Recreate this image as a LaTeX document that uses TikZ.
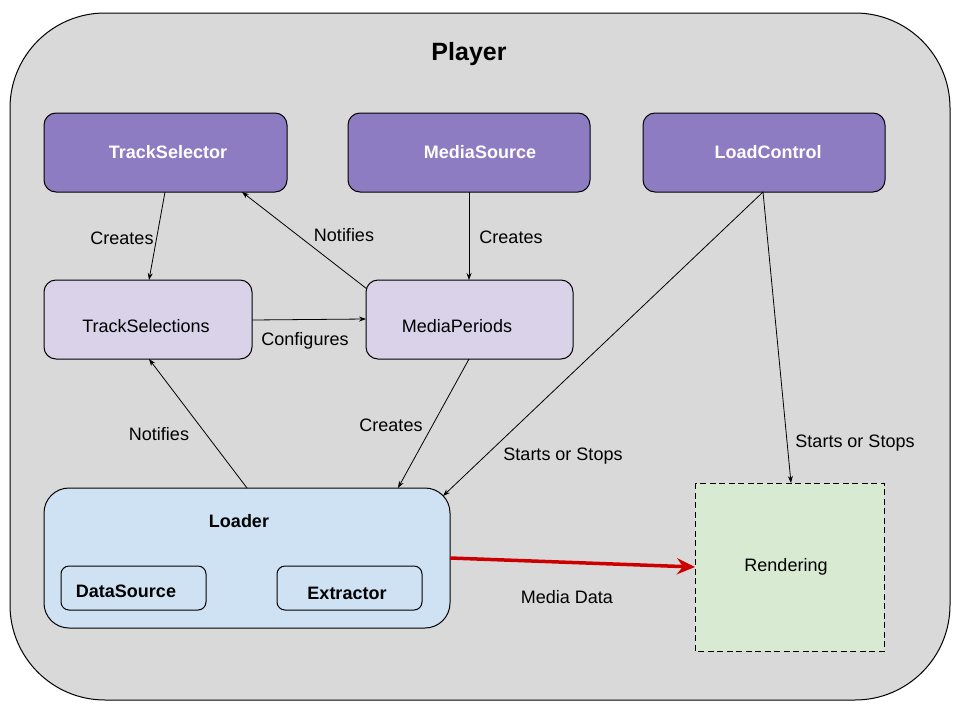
\documentclass[tikz,border=0pt]{standalone}
\usepackage{fontspec}
\setmainfont{Liberation Sans}
\usetikzlibrary{arrows.meta}
\definecolor{bggray}{HTML}{D9D9D9}
\definecolor{purpdark}{HTML}{8E7CC3}
\definecolor{purplight}{HTML}{D9D2E9}
\definecolor{bluelight}{HTML}{CFE2F3}
\definecolor{greenlight}{HTML}{D9EAD3}
\definecolor{redarrow}{HTML}{CC0000}
\tikzset{
  txt/.style={font=\fontsize{18}{21}\selectfont, inner sep=0pt},
  btxt/.style={font=\fontsize{18}{21}\selectfont\bfseries, inner sep=0pt},
  topbox/.style={draw=black, line width=1pt, fill=purpdark, rounded corners=12pt},
  midbox/.style={draw=black, line width=1pt, fill=purplight, rounded corners=12pt},
  conn/.style={draw=black, line width=0.8pt, -{Stealth[length=7pt,width=5pt]}},
}
\begin{document}
\begin{tikzpicture}[x=1pt,y=-1pt]
\useasboundingbox (0,0) rectangle (960,720);
\fill[white] (0,0) rectangle (960,720);
% outer player
\draw[line width=1pt, fill=bggray, rounded corners=95pt] (10,13) rectangle (950,700);
\node[font=\fontsize{25}{28}\selectfont\bfseries, inner sep=0pt] (title) at (469,54) {Player};

% top boxes
\draw[topbox] (44,113) rectangle (287,192);
\node[btxt, text=white] (ts) at (168,152) {TrackSelector};
\draw[topbox] (348,113) rectangle (590,192);
\node[btxt, text=white] (ms) at (480,152) {MediaSource};
\draw[topbox] (643,113) rectangle (885,192);
\node[btxt, text=white] (lc) at (768,152) {LoadControl};

% middle boxes
\draw[midbox] (44,280) rectangle (252,359);
\node[txt] (tsel) at (146,326) {TrackSelections};
\draw[midbox] (366,280) rectangle (573,359);
\node[txt] (mp) at (457,326) {MediaPeriods};

% loader
\draw[line width=1pt, fill=bluelight, rounded corners=25pt] (44,488) rectangle (450,628);
\node[btxt] (loader) at (239,521) {Loader};
\draw[line width=1pt, rounded corners=8pt] (61,566) rectangle (206,610);
\node[btxt] (ds) at (126,591) {DataSource};
\draw[line width=1pt, rounded corners=8pt] (277,566) rectangle (422,610);
\node[btxt] (ex) at (347,593) {Extractor};

% rendering
\draw[line width=1pt, dash pattern=on 6pt off 3.5pt, fill=greenlight] (695,483) rectangle (884,651);
\node[txt] (rend) at (786,567) {Rendering};

% anchor coordinates
\coordinate (tsB1) at (165,192);
\coordinate (tsB2) at (242,192);
\coordinate (tselT) at (149,280);
\coordinate (tselB) at (149,359);
\coordinate (tselR) at (252,320);
\coordinate (msB) at (469,192);
\coordinate (mpT) at (469,280);
\coordinate (mpL) at (366,319);
\coordinate (mpTL) at (367,289);
\coordinate (mpB) at (469,359);
\coordinate (lcB) at (763,192);
\coordinate (ldT1) at (247,488);
\coordinate (ldT2) at (398,488);
\coordinate (ldTR) at (443,496);
\coordinate (ldR) at (450,558);
\coordinate (rdT) at (791,483);
\coordinate (rdL) at (695,567);

% connectors
\draw[conn] (tsB1) -- (tselT);
\node[txt] (l1) at (122,238) {Creates};
\draw[conn] (mpTL) -- (tsB2);
\node[txt] (l2) at (344,235) {Notifies};
\draw[conn] (msB) -- (mpT);
\node[txt] (l3) at (511,237) {Creates};
\draw[conn] (tselR) -- (mpL);
\node[txt] (l4) at (305,341) {Configures};
\draw[conn] (ldT1) -- (tselB);
\node[txt] (l5) at (159,434) {Notifies};
\draw[conn] (mpB) -- (ldT2);
\node[txt] (l6) at (391,425) {Creates};
\draw[conn] (lcB) -- (ldTR);
\node[txt] (l7) at (563,456) {Starts or Stops};
\draw[conn] (lcB) -- (rdT);
\node[txt] (l8) at (855,443) {Starts or Stops};
\draw[draw=redarrow, line width=3.5pt, -{Stealth[length=18pt,width=16pt,inset=6pt]}] (ldR) -- (rdL);
\node[txt] (l9) at (567,597) {Media Data};
\end{tikzpicture}
\end{document}
